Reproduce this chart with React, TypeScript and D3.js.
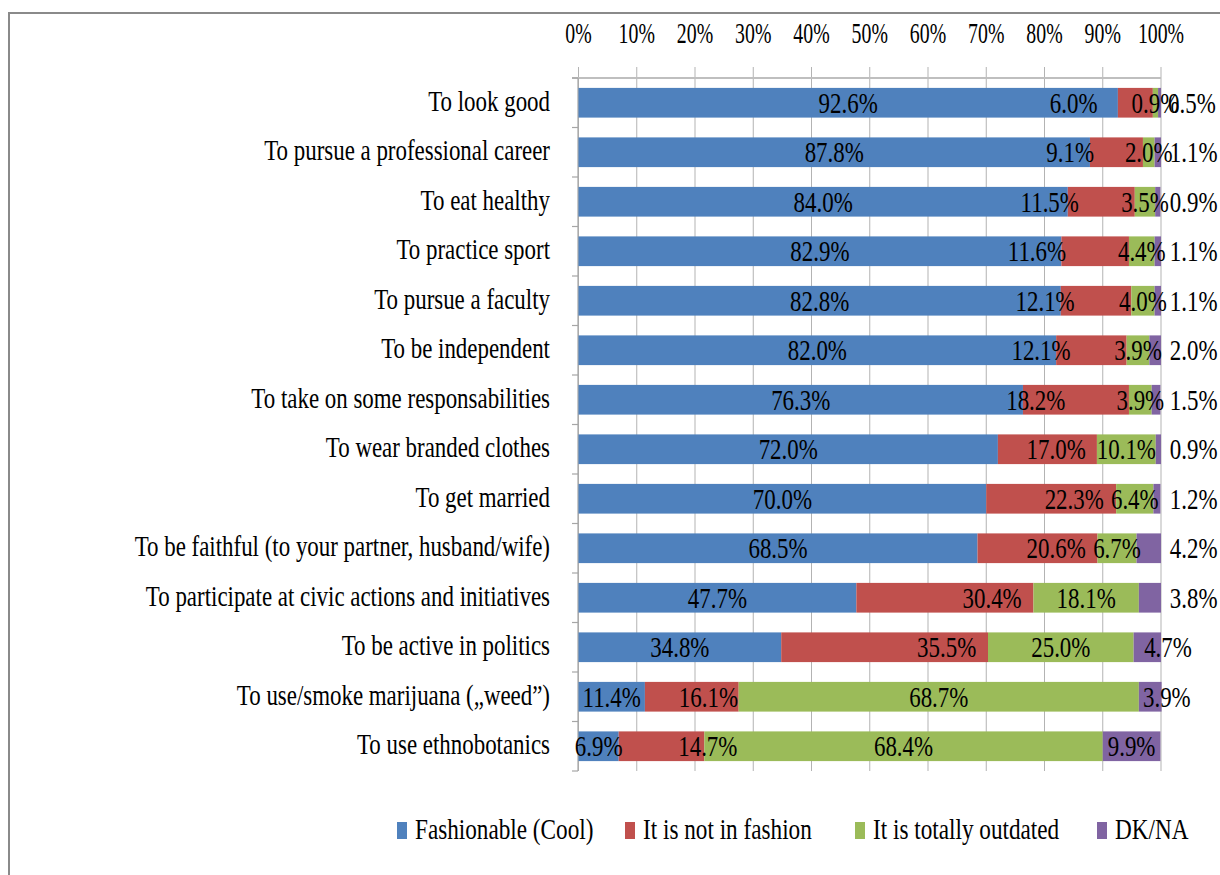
import React from "react";
import * as d3 from "d3";

// ---------- data ----------
const categories = [
  "To look good",
  "To pursue a professional career",
  "To eat healthy",
  "To practice sport",
  "To pursue a faculty",
  "To be independent",
  "To take on some responsabilities",
  "To wear branded clothes",
  "To get married",
  "To be faithful (to your partner, husband/wife)",
  "To participate at civic actions and initiatives",
  "To be active in politics",
  "To use/smoke marijuana (\u201Eweed\u201D)",
  "To use ethnobotanics",
];
const fashionable = [92.6, 87.8, 84.0, 82.9, 82.8, 82.0, 76.3, 72.0, 70.0, 68.5, 47.7, 34.8, 11.4, 6.9];
const notInFashion = [6.0, 9.1, 11.5, 11.6, 12.1, 12.1, 18.2, 17.0, 22.3, 20.6, 30.4, 35.5, 16.1, 14.7];
const outdated = [0.9, 2.0, 3.5, 4.4, 4.0, 3.9, 3.9, 10.1, 6.4, 6.7, 18.1, 25.0, 68.7, 68.4];
const dkna = [0.5, 1.1, 0.9, 1.1, 1.1, 2.0, 1.5, 0.9, 1.2, 4.2, 3.8, 4.7, 3.9, 9.9];
// where the (manually placed) labels of two series sit, in % of the value axis
const notInFashionLabelAt = [85.0, 84.4, 80.9, 78.7, 80.1, 79.4, 78.5, 82.0, 85.1, 82.0, 71.0, 63.2, 22.3, 22.2];
const dknaLabelAt = [105.3, 105.6, 105.6, 105.6, 105.6, 105.6, 105.6, 105.6, 105.6, 105.6, 105.6, 101.2, 101.0, 94.95];
const seriesNames = ["Fashionable (Cool)", "It is not in fashion", "It is totally outdated", "DK/NA"];
const xTicks = [0, 10, 20, 30, 40, 50, 60, 70, 80, 90, 100];

// ---------- style ----------
const colors = ["#4f81bd", "#c0504d", "#9bbb59", "#8064a2"];
const FONT = "'Liberation Serif', 'Times New Roman', serif";
const W = 1220;
const H = 875;

type Row = { cat: string; a: number; b: number; c: number; d: number };
const rows: Row[] = categories.map((cat, i) => ({
  cat,
  a: fashionable[i],
  b: notInFashion[i],
  c: outdated[i],
  d: dkna[i],
}));
const keys = ["a", "b", "c", "d"];

function Txt(props: {
  x: number;
  y: number;
  anchor?: "start" | "middle" | "end";
  size?: number;
  sx?: number;
  children: React.ReactNode;
}) {
  const { x, y, anchor = "start", size = 29, sx = 0.79, children } = props;
  return (
    <text
      transform={`translate(${x},${y}) scale(${sx},1)`}
      textAnchor={anchor}
      fontSize={size}
      fontFamily={FONT}
      fill="#000"
    >
      {children}
    </text>
  );
}

export default function App() {
  const x = d3.scaleLinear().domain([0, 100]).range([578.5, 1161]);
  const y = d3
    .scaleBand<string>()
    .domain(categories)
    .range([78, 771])
    .paddingInner(0.4)
    .paddingOuter(0.2);
  const step = y.step();
  const bandTop = 78;

  const stacked = d3.stack<Row>().keys(keys)(rows);
  const fmt = (v: number) => v.toFixed(1) + "%";
  const legendX = [397, 625, 855, 1097];

  return (
    <svg
      width={W}
      height={H}
      style={{ position: "absolute", left: 0, top: 0, background: "#fff" }}
    >
      <rect x={0} y={0} width={W} height={H} fill="#fff" />
      {/* frame */}
      <line x1={8} x2={W} y1={13} y2={13} stroke="#8a8a8a" strokeWidth={2} />
      <line x1={9} x2={9} y1={12} y2={H} stroke="#8a8a8a" strokeWidth={2} />

      {/* gridlines and top ticks */}
      {xTicks.map((t) => (
        <line
          key={"g" + t}
          x1={x(t)}
          x2={x(t)}
          y1={67}
          y2={771}
          stroke="#b3b3b3"
          strokeWidth={1}
        />
      ))}
      <line x1={572} x2={x(100)} y1={78} y2={78} stroke="#bfbfbf" strokeWidth={2} />
      {xTicks.map((t) => (
        <Txt key={"t" + t} x={x(t)} y={43} anchor="middle" size={30} sx={0.66}>
          {t + "%"}
        </Txt>
      ))}

      {/* category axis */}
      <line x1={578} x2={578} y1={78} y2={771} stroke="#a6a6a6" strokeWidth={1.2} />
      {d3.range(categories.length + 1).map((k) => (
        <line
          key={"ct" + k}
          x1={572}
          x2={578}
          y1={bandTop + k * step}
          y2={bandTop + k * step}
          stroke="#a6a6a6"
          strokeWidth={1.2}
        />
      ))}

      {/* bars */}
      {stacked.map((s, si) => (
        <g key={"s" + si} fill={colors[si]}>
          {s.map((d, i) => (
            <rect
              key={i}
              x={x(d[0])}
              width={Math.max(0, x(d[1]) - x(d[0]))}
              y={y(categories[i])!}
              height={y.bandwidth()}
            />
          ))}
        </g>
      ))}

      {/* category labels */}
      {categories.map((c) => (
        <Txt key={"cl" + c} x={550} y={y(c)! + y.bandwidth() / 2 + 8} anchor="end">
          {c}
        </Txt>
      ))}

      {/* data labels */}
      {rows.map((r, i) => {
        const cy = y(r.cat)! + y.bandwidth() / 2 + 10;
        const sa = stacked[0][i];
        const sc = stacked[2][i];
        return (
          <g key={"dl" + i}>
            <Txt x={x((sa[0] + sa[1]) / 2)} y={cy} anchor="middle">
              {fmt(r.a)}
            </Txt>
            <Txt x={x(notInFashionLabelAt[i])} y={cy} anchor="middle">
              {fmt(r.b)}
            </Txt>
            <Txt x={x((sc[0] + sc[1]) / 2)} y={cy} anchor="middle">
              {fmt(r.c)}
            </Txt>
            <Txt x={x(dknaLabelAt[i])} y={cy} anchor="middle">
              {fmt(r.d)}
            </Txt>
          </g>
        );
      })}

      {/* legend */}
      {seriesNames.map((n, i) => (
        <g key={"lg" + i}>
          <rect x={legendX[i]} y={822} width={10} height={17} fill={colors[i]} />
          <Txt x={legendX[i] + 18} y={839} sx={0.8}>
            {n}
          </Txt>
        </g>
      ))}
    </svg>
  );
}
